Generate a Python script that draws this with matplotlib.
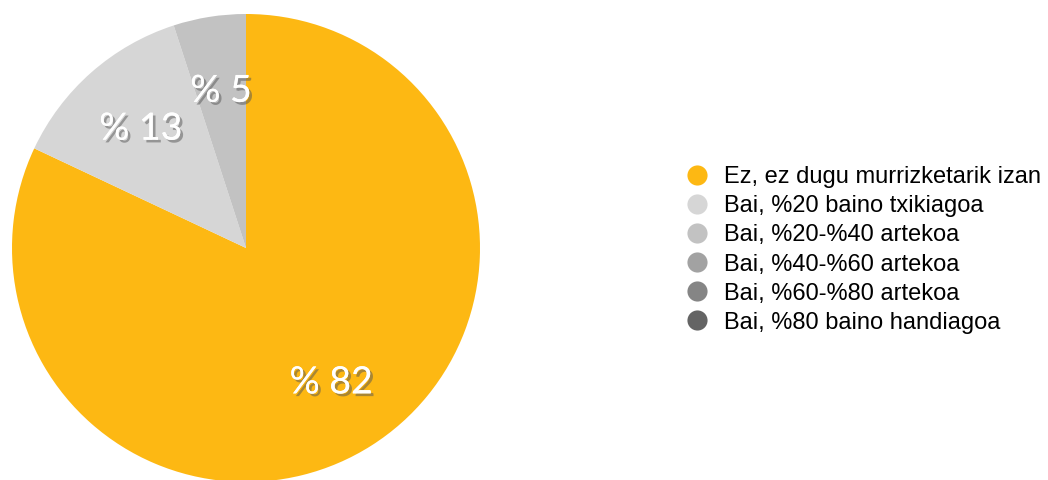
import matplotlib
matplotlib.use("Agg")
from matplotlib import pyplot as plt
from matplotlib.lines import Line2D
import matplotlib.patheffects as pe

# answers (percent)
labels = ["Ez, ez dugu murrizketarik izan", "Bai, %20 baino txikiagoa",
          "Bai, %20-%40 artekoa", "Bai, %40-%60 artekoa",
          "Bai, %60-%80 artekoa", "Bai, %80 baino handiagoa"]
values = [82, 13, 5, 0, 0, 0]
colors = ["#FDB813", "#D6D6D6", "#C2C2C2", "#A2A2A2", "#858585", "#646464"]

fig = plt.figure(figsize=(10.48, 4.8), dpi=100)
cx, cy, r = 246, 248, 234
ax = fig.add_axes([(cx - r) / 1048, (480 - cy - r) / 480, 2 * r / 1048, 2 * r / 480])


def pct_label(p):
    if p < 0.5:
        return ""
    return "% {:.0f}".format(p)


wedges, texts, autotexts = ax.pie(values, colors=colors, startangle=90, counterclock=False,
                                  autopct=pct_label, pctdistance=0.68, radius=1.0,
                                  wedgeprops=dict(linewidth=0))
for t in autotexts:
    t.set_color("white")
    t.set_fontsize(27)
    t.set_family(["Lato", "DejaVu Sans"])
    t.set_path_effects([pe.withSimplePatchShadow(offset=(2, -2), shadow_rgbFace="#555555", alpha=0.5),
                        pe.Normal()])
ax.set_xlim(-1, 1)
ax.set_ylim(-1, 1)
ax.set_aspect("equal")
ax.axis("off")

handles = [Line2D([0], [0], marker="o", linestyle="", markersize=14.5, markerfacecolor=c,
                  markeredgewidth=0) for c in colors]
fig.legend(handles, labels, loc="center left", bbox_to_anchor=(673 / 1048, 1 - 250 / 480),
           frameon=False, labelspacing=0.3, handletextpad=0.55,
           handlelength=1.2, borderaxespad=0, prop={"family": "Liberation Sans", "size": 17})

fig.savefig("out.png", dpi=100)
